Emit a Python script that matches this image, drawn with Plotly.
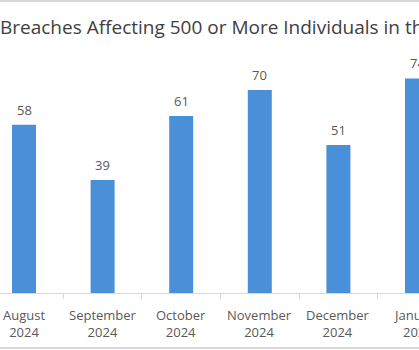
import plotly.graph_objects as go

months = ["August", "September", "October", "November", "December", "January"]
years = ["2024", "2024", "2024", "2024", "2024", "2025"]
breaches = [58, 39, 61, 70, 51, 74]
title_text = "Breaches Affecting 500 or More Individuals in the Past 6 Months"

labels = [f"{m}<br>{y}" for m, y in zip(months, years)]
xs = list(range(len(months)))

BAR = "#4a90d9"
TXT = "#595959"
GRID = "#d9d9d9"
FONT = "Open Sans"

W, H = 419, 350
spacing = 78.6
x0px = 24.0
xmin = -x0px / spacing
xmax = (W - x0px) / spacing

fig = go.Figure()
fig.add_trace(go.Bar(
    x=xs, y=breaches, width=24 / spacing,
    marker=dict(color=BAR, line=dict(width=0)),
    hoverinfo="skip",
))

for xi, v in zip(xs, breaches):
    fig.add_annotation(x=xi, y=v, text=str(v), showarrow=False,
                       yanchor="bottom", yshift=4,
                       font=dict(family=FONT, size=13, color=TXT))

for xi, lab in zip(xs, labels):
    fig.add_annotation(x=xi, y=0, text=lab, showarrow=False,
                       yanchor="top", yshift=-11,
                       font=dict(family=FONT, size=13, color=TXT))

fig.add_annotation(xref="paper", yref="paper", x=-2 / W, xanchor="left",
                   y=1, yanchor="bottom", yshift=8,
                   text=title_text, showarrow=False,
                   font=dict(family=FONT, size=19, color="#404040"))

# chart border lines (top/bottom)
fig.add_shape(type="line", xref="paper", yref="paper", x0=-0.1, x1=1.1,
              y0=1 + (50 - 1) / 243, y1=1 + (50 - 1) / 243,
              line=dict(color=GRID, width=2))
fig.add_shape(type="line", xref="paper", yref="paper", x0=-0.1, x1=1.1,
              y0=-(348 - 293) / 243, y1=-(348 - 293) / 243,
              line=dict(color=GRID, width=2))

fig.update_layout(
    width=W, height=H,
    margin=dict(l=0, r=0, t=50, b=57),
    paper_bgcolor="white", plot_bgcolor="white",
    showlegend=False,
    font=dict(family=FONT, size=13, color=TXT),
    xaxis=dict(
        range=[xmin, xmax],
        tickmode="array",
        tickvals=[x + 0.5 for x in range(-1, len(months))],
        ticktext=[""] * (len(months) + 1),
        ticks="outside", ticklen=5, tickcolor=GRID, tickwidth=1,
        showline=True, linecolor=GRID, linewidth=1,
        showgrid=False, zeroline=False, fixedrange=True,
    ),
    yaxis=dict(range=[0, 243 / 2.9], visible=False, fixedrange=True),
)

fig.write_html("out.html")
